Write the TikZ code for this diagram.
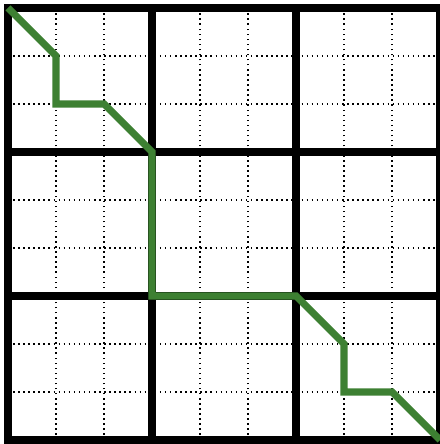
\documentclass[tikz,border=0pt]{standalone}
\definecolor{routegreen}{RGB}{61,128,50}
\begin{document}
\begin{tikzpicture}[scale=1.0,
    minor/.style={line width=0.9pt, dash pattern=on 0.9pt off 2.1pt},
    major/.style={line width=4.7pt, line cap=rect},
    route/.style={line width=4.2pt, routegreen, line join=miter}]
    \useasboundingbox (-0.1667,-0.0833) rectangle (8.979,9.1667);

    % dotted lines inside each block
    \foreach \i in {1,2,4,5,7,8} {
        \draw[minor] (\i,0) -- (\i,9);
        \draw[minor] (0,\i) -- (9,\i);
    }

    % block borders
    \foreach \i in {0,3,6,9} {
        \draw[major] (\i,0) -- (\i,9);
        \draw[major] (0,\i) -- (9,\i);
    }

    \coordinate (S) at (0,9);
    \coordinate (E) at (9,0);

    \draw[route] (S) -- (1,8) -- (1,7) -- (2,7) -- (3,6) -- (3,3)
        -- (6,3) -- (7,2) -- (7,1) -- (8,1) -- (E);
\end{tikzpicture}
\end{document}
